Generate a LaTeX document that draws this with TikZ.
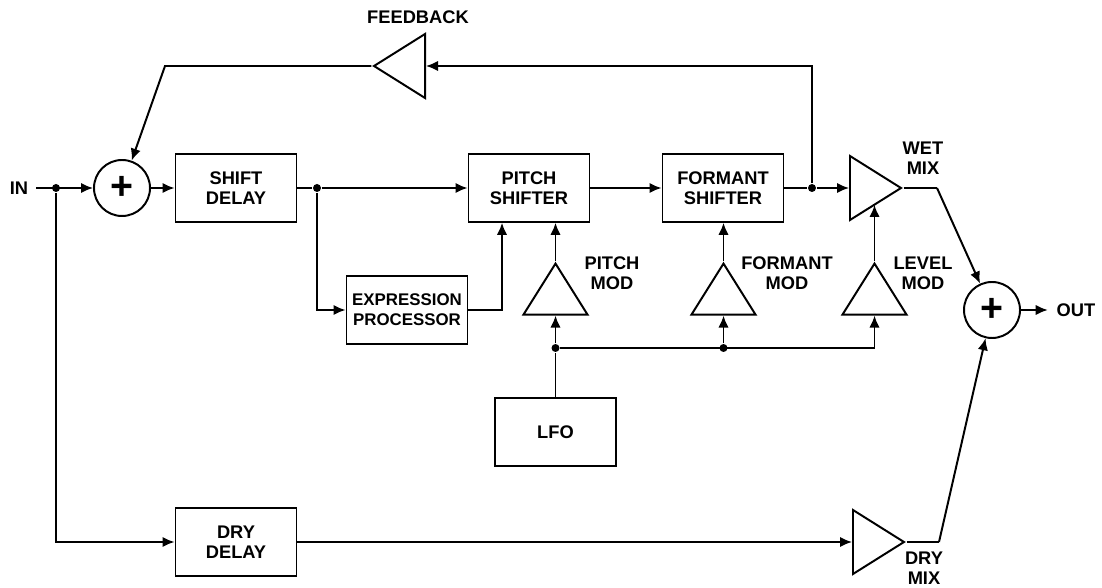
\documentclass[tikz,border=0pt]{standalone}
\usepackage{fontspec}
\setmainfont{Liberation Sans}
\usetikzlibrary{shapes.geometric, arrows.meta}

\begin{document}
\begin{tikzpicture}[
  x = 0.25mm, y = -0.25mm,
  line width = 1.4pt,
  every node/.style = {font=\bfseries\fontsize{13}{14.2}\selectfont},
  box/.style = {draw, rectangle, align=center, inner sep=0pt,
                minimum width=30.25mm, minimum height=16.9mm},
  sum/.style = {draw, circle, inner sep=0pt, minimum size=14mm,
                font=\bfseries\fontsize{28}{28}\selectfont},
  amp/.style = {draw, isosceles triangle, isosceles triangle stretches,
                inner sep=0pt, minimum width=16mm, minimum height=12.75mm},
  ampup/.style    = {amp, shape border rotate=90, anchor=north},
  ampright/.style = {amp, shape border rotate=0, anchor=west},
  ampleft/.style  = {amp, shape border rotate=180, anchor=east},
  lbl/.style = {align=center, inner sep=0pt},
  dot/.style = {circle, fill, inner sep=0pt, minimum size=2mm},
  go/.style  = {-{Latex[length=3mm, width=2.6mm]}},
]
\useasboundingbox (0,0) rectangle (1102,588);

% --- wet path -------------------------------------------------------------
\node[lbl, inner xsep=1.75mm] (in) at (19,188) {IN};
\node[dot] (jin) at (56,188) {};
\node[sum] (add) at (122,188) {+};
\node[box] (sdel) at (236,188) {SHIFT\\DELAY};
\node[dot] (jsd) at (317,188) {};
\node[box, font=\bfseries\fontsize{12}{14}\selectfont] (expr) at (407,310) {EXPRESSION\\PROCESSOR};
\node[box] (pitch) at (529,188) {PITCH\\SHIFTER};
\node[box] (form) at (723,188) {FORMANT\\SHIFTER};
\node[dot] (jfb) at (812,188) {};
\node[ampright] (wet) at (849,188) {};
\coordinate (cwet) at (937,188);
\node[sum] (mix) at (992,310) {+};
\node[lbl, inner xsep=2mm] (out) at (1076,310) {OUT};

\draw[go] (in) -- (add);
\draw[go] (add) -- (sdel);
\draw (sdel) -- (jsd);
\draw[go] (jsd) -- (pitch);
\draw[go] (jsd) |- (expr);
\draw[go] (expr.east) -| ([xshift=-6.75mm]pitch.south);
\draw[go] (pitch) -- (form);
\draw (form) -- (jfb);
\draw[go] (jfb) -- (wet);
\draw (wet.apex) -- (cwet);
\draw[go] (cwet) -- (mix);
\draw[go] (mix) -- (out);

% --- feedback ---------------------------------------------------------------
\node[ampleft] (fb) at (426,66) {};
\coordinate (cfb) at (165,66);
\node[lbl] at (418,17) {FEEDBACK};
\draw[go] (jfb) |- (fb.east);
\draw[go] (fb.apex) -- (cfb) -- (add);

% --- modulation -------------------------------------------------------------
\node[ampup] (pmod) at (555.5,261) {};
\node[ampup] (fmod) at (723.5,261) {};
\node[ampup] (lmod) at (874.5,261) {};
\node[lbl] at (612,273) {PITCH\\MOD};
\node[lbl] at (787,273) {FORMANT\\MOD};
\node[lbl] at (923,273) {LEVEL\\MOD};
\node[lbl] at (923,158) {WET\\MIX};
\node[box] (lfo) at (555.5,432) {LFO};
\node[dot] (jlfo) at (555.5,348) {};
\node[dot] (jfm) at (723.5,348) {};
\coordinate (clm) at (874.5,348);

\draw[go] (pmod.north) -- (pmod.north |- pitch.south);
\draw[go] (fmod.north) -- (fmod.north |- form.south);
\draw[go] (lmod.north) -- (lmod.north |- wet.right side);
\draw (lfo) -- (jlfo);
\draw[go] (jlfo) -- (pmod.lower side);
\draw (jlfo) -- (clm);
\draw[go] (jfm) -- (fmod.lower side);
\draw[go] (clm) -- (lmod.lower side);

% --- dry path ---------------------------------------------------------------
\node[box] (ddel) at (236,542) {DRY\\DELAY};
\node[ampright] (dry) at (852,542) {};
\coordinate (cdry) at (939,542);
\node[lbl] at (924,568) {DRY\\MIX};

\draw[go] (jin) |- (ddel);
\draw[go] (ddel) -- (dry);
\draw (dry.apex) -- (cdry);
\draw[go] (cdry) -- (mix);

\end{tikzpicture}
\end{document}
